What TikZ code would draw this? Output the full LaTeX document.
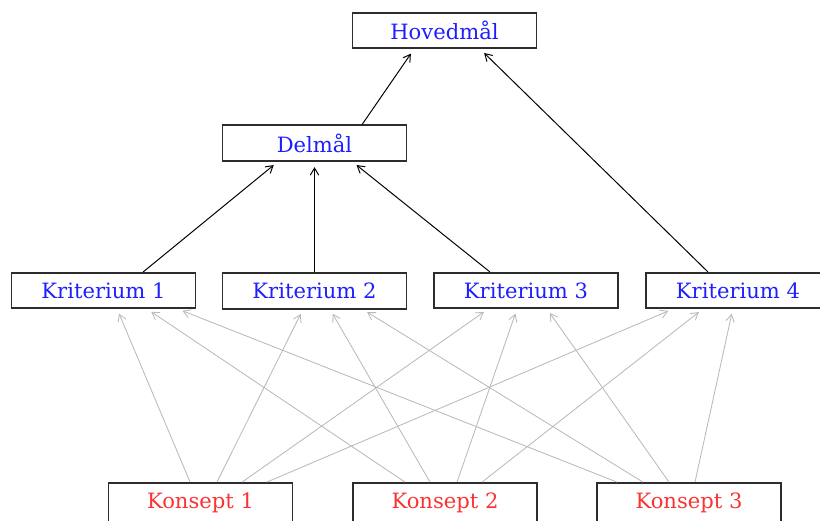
\documentclass[tikz,border=0pt]{standalone}
\usepackage{fontspec}
\setmainfont{DejaVu Serif}
\usetikzlibrary{arrows.meta}

\definecolor{goalblue}{RGB}{30,30,255}
\definecolor{conceptred}{RGB}{250,50,50}
\definecolor{boxgray}{RGB}{45,45,45}
\definecolor{linegray}{RGB}{185,185,185}

\begin{document}
\begin{tikzpicture}[x=0.025cm, y=-0.025cm, >={Straight Barb[length=5pt,width=6pt]}]
    \tikzset{goal/.style={draw=boxgray, line width=1.3pt, minimum width=4.6cm, minimum height=0.88cm, inner sep=0pt, text=goalblue, font=\fontsize{15}{18}\selectfont},
             concept/.style={goal, text=conceptred, minimum height=1cm},
             link/.style={->, draw=black, line width=0.7pt, shorten >=4pt},
             weight/.style={->, draw=linegray, line width=0.6pt, shorten >=3.5pt}}
    \useasboundingbox (0,0) rectangle (820,520);
    \clip (0,0) rectangle (820,520);

    % Nodes
    \node[goal]    (hoved)  at (444.5,30.5) {Hovedmål};
    \node[goal]    (delmal) at (314.5,143)  {Delmål};
    \node[goal]    (krit1)  at (103.5,290.5) {Kriterium 1};
    \node[goal]    (krit2)  at (314.5,291)  {Kriterium 2};
    \node[goal]    (krit3)  at (526,290.5)  {Kriterium 3};
    \node[goal]    (krit4)  at (738,290.5)  {Kriterium 4};
    \node[concept] (kons1)  at (200.5,503)  {Konsept 1};
    \node[concept] (kons2)  at (445,503)    {Konsept 2};
    \node[concept] (kons3)  at (689,503)    {Konsept 3};

    % Goal hierarchy
    \draw[link] ([xshift=1.19cm]delmal.north) -- ([xshift=-0.76cm]hoved.south);
    \draw[link] ([xshift=-0.75cm]krit4.north) -- ([xshift=0.89cm]hoved.south);
    \draw[link] ([xshift=0.99cm]krit1.north)  -- ([xshift=-0.91cm]delmal.south);
    \draw[link] (krit2.north) -- (delmal.south);
    \draw[link] ([xshift=-0.9cm]krit3.north)  -- ([xshift=0.94cm]delmal.south);

    % Concepts scored against every criterion
    \draw[weight] ([xshift=-0.26cm]kons1.north) -- ([xshift=0.34cm]krit1.south);
    \draw[weight] ([xshift=0.41cm]kons1.north)  -- ([xshift=-0.29cm]krit2.south);
    \draw[weight] ([xshift=1.04cm]kons1.north)  -- ([xshift=-0.95cm]krit3.south);
    \draw[weight] ([xshift=1.66cm]kons1.north)  -- ([xshift=-1.63cm]krit4.south);
    \draw[weight] ([xshift=-1.0cm]kons2.north)  -- ([xshift=1.09cm]krit1.south);
    \draw[weight] ([xshift=-0.375cm]kons2.north) -- ([xshift=0.39cm]krit2.south);
    \draw[weight] ([xshift=0.3cm]kons2.north)   -- ([xshift=-0.225cm]krit3.south);
    \draw[weight] ([xshift=0.925cm]kons2.north) -- ([xshift=-0.88cm]krit4.south);
    \draw[weight] ([xshift=-1.8cm]kons3.north)  -- ([xshift=1.86cm]krit1.south);
    \draw[weight] ([xshift=-1.15cm]kons3.north) -- ([xshift=1.21cm]krit2.south);
    \draw[weight] ([xshift=-0.5cm]kons3.north)  -- ([xshift=0.525cm]krit3.south);
    \draw[weight] ([xshift=0.15cm]kons3.north)  -- ([xshift=-0.13cm]krit4.south);
\end{tikzpicture}
\end{document}
